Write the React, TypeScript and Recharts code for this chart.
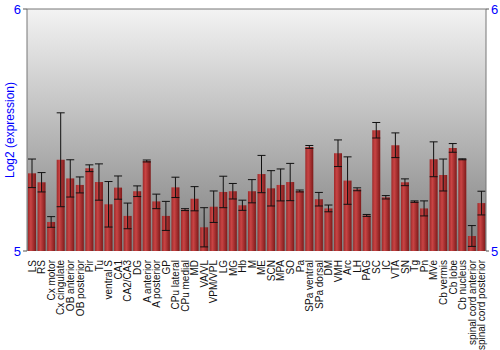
import { Bar, ComposedChart, ErrorBar, Line, ReferenceArea, ReferenceLine, XAxis, YAxis } from "recharts";

const regions = [
  "LS", "RS", "Cx motor", "Cx cingulate", "OB anterior", "OB posterior", "Pir", "Tu",
  "ventral S", "CA1", "CA2/CA3", "DG", "A anterior", "A posterior", "GP", "CPu lateral",
  "CPu medial", "MD", "VA/VL", "VPM/VPL", "LG", "MG", "Hb", "M", "ME", "SCN", "MPA", "SO",
  "Pa", "SPa ventral", "SPa dorsal", "DM", "VMH", "Arc", "LH", "PAG", "SC", "IC", "VTA",
  "SN", "Tg", "Pn", "MVe", "Cb vermis", "Cb lobe", "Cb nucleus", "spinal cord anterior",
  "spinal cord posterior",
];

const means = [
  5.321, 5.284, 5.12, 5.377, 5.3, 5.273, 5.342, 5.285,
  5.193, 5.262, 5.145, 5.247, 5.372, 5.205, 5.145, 5.263,
  5.171, 5.216, 5.098, 5.183, 5.244, 5.247, 5.189, 5.247, 5.318, 5.259, 5.273, 5.285,
  5.248, 5.43, 5.214, 5.176, 5.404, 5.291, 5.255, 5.147, 5.499, 5.222, 5.437,
  5.284, 5.204, 5.176, 5.379, 5.314, 5.426, 5.379, 5.062,
  5.198,
];

const errs = [
  0.059, 0.04, 0.022, 0.194, 0.077, 0.033, 0.014, 0.075,
  0.094, 0.048, 0.053, 0.022, 0.004, 0.03, 0.06, 0.042,
  0.004, 0.05, 0.081, 0.065, 0.065, 0.032, 0.021, 0.048, 0.077, 0.073, 0.066, 0.077,
  0.004, 0.006, 0.028, 0.014, 0.055, 0.098, 0.006, 0.004, 0.032, 0.007, 0.051,
  0.014, 0.003, 0.031, 0.072, 0.066, 0.018, 0.002, 0.043,
  0.049,
];

const yTicks = [5, 6];

const data = regions.map((name, i) => ({ name, value: means[i], err: errs[i] }));

const FONT = "'Liberation Sans', Arial, sans-serif";

function RegionTick(props: any) {
  const { x, y, payload } = props;
  return (
    <text
      x={x + 4}
      y={y + 1}
      transform={`rotate(-90, ${x + 4}, ${y + 1})`}
      textAnchor="end"
      fontSize={10}
      fontFamily={FONT}
      fill="#111"
    >
      {payload.value}
    </text>
  );
}

export default function App() {
  return (
    <div style={{ position: "absolute", left: 0, top: 0, width: 500, height: 350, background: "#fff" }}>
      <ComposedChart
        width={500}
        height={350}
        data={data}
        margin={{ top: 9, right: 0, left: 0, bottom: 0 }}
        barSize={8}
      >
        <defs>
          <linearGradient id="bgGrad" x1="0" y1="0" x2="0" y2="1">
            <stop offset="0%" stopColor="#f3f3f3" />
            <stop offset="100%" stopColor="#7f7f7f" />
          </linearGradient>
          <linearGradient id="barGrad" x1="0" y1="0" x2="1" y2="0">
            <stop offset="0%" stopColor="#9e2a2a" />
            <stop offset="35%" stopColor="#c94444" />
            <stop offset="100%" stopColor="#7e1a1a" />
          </linearGradient>
        </defs>
        <XAxis
          dataKey="name"
          interval={0}
          height={99}
          axisLine={false}
          tickLine={false}
          tick={<RegionTick />}
        />
        <YAxis
          yAxisId="left"
          domain={[5, 6]}
          ticks={yTicks}
          width={27}
          axisLine={{ stroke: "#777" }}
          tickLine={{ stroke: "#555" }}
          tickSize={4}
          tick={{ fill: "#0000ff", fontSize: 13, fontFamily: FONT }}
          label={{
            value: "Log2 (expression)",
            angle: -90,
            position: "insideLeft",
            dx: 5,
            dy: 0,
            style: { textAnchor: "middle", fill: "#0000ff", fontSize: 12, fontFamily: FONT },
          }}
        />
        <YAxis
          yAxisId="right"
          orientation="right"
          domain={[5, 6]}
          ticks={yTicks}
          width={14}
          axisLine={{ stroke: "#777" }}
          tickLine={{ stroke: "#555" }}
          tickSize={3}
          tick={{ fill: "#0000ff", fontSize: 13, fontFamily: FONT }}
        />
        <ReferenceArea
          yAxisId="left"
          y1={5}
          y2={6}
          fill="url(#bgGrad)"
          fillOpacity={1}
          stroke="none"
          ifOverflow="visible"
        />
        <ReferenceLine yAxisId="left" y={6} stroke="#777" />
        <Bar yAxisId="left" dataKey="value" fill="url(#barGrad)" isAnimationActive={false}>
          <ErrorBar dataKey="err" width={4} stroke="#111" strokeWidth={1} direction="y" />
        </Bar>
        <Line
          yAxisId="right"
          dataKey="value"
          stroke="none"
          dot={false}
          activeDot={false}
          legendType="none"
          isAnimationActive={false}
        />
      </ComposedChart>
    </div>
  );
}
